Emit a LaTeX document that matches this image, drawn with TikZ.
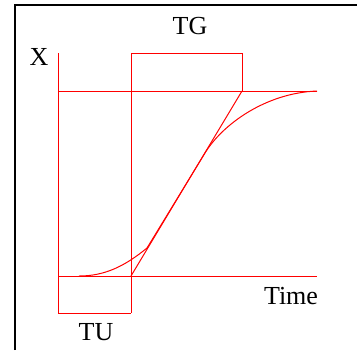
\documentclass[tikz,border=0pt]{standalone}
\usepackage{fontspec}
\setmainfont{Liberation Serif}
\usetikzlibrary{calc}

\begin{document}
\begin{tikzpicture}[
    x=0.5pt, y=-0.5pt,
    font=\fontsize{13}{15}\selectfont,
    frame/.style={draw=black, line width=1pt},
    curve/.style={draw=red, line width=0.5pt},
    lbl/.style={inner sep=0pt, anchor=center}
]
\useasboundingbox (0,0) rectangle (357,350);

% =========================================================
% 1) FRAME
% =========================================================
\draw[frame] (15,350) -- (15,5) -- (357,5);

% =========================================================
% 2) AXES AND REFERENCE LINES
% =========================================================
\coordinate (axTop) at (58,53);
\coordinate (axBot) at (58,313);
\coordinate (hiL) at (58,91);
\coordinate (hiR) at (317,91);
\coordinate (loL) at (58,276);
\coordinate (loR) at (317,276);
\coordinate (tuTop) at (131,53);
\coordinate (tuBot) at (131,313);
\coordinate (tgEnd) at (242,91);
\coordinate (tgTop) at (242,53);
\coordinate (tanStart) at (131,276);

\draw[curve] (axTop) -- (axBot);
\draw[curve] (hiL) -- (hiR);
\draw[curve] (loL) -- (loR);
\draw[curve] (tuTop) -- (tuBot);

% TG and TU boxes
\draw[curve] (tuTop) -- (tgTop) -- (tgEnd);
\draw[curve] (axBot) -- (tuBot);

% tangent at the inflection point
\draw[curve] (tanStart) -- (tgEnd);

% step response: joins the tangent, runs along it, then bends away
\coordinate (resStart) at (79,276);
\coordinate (tanJoin) at (147,248);
\coordinate (tanLeave) at (205,153);
\draw[curve] (resStart) .. controls (105,276) and (125,266) .. (tanJoin)
    -- (tanLeave)
    .. controls (222,125) and (265,93) .. (hiR);

% =========================================================
% 3) LABELS
% =========================================================
\node[lbl] (xLbl) at (39,57) {X};
\node[lbl] (tgLbl) at (190,26) {TG};
\node[lbl] (timeLbl) at (291,296) {Time};
\node[lbl] (tuLbl) at (96,332) {TU};

\end{tikzpicture}
\end{document}
